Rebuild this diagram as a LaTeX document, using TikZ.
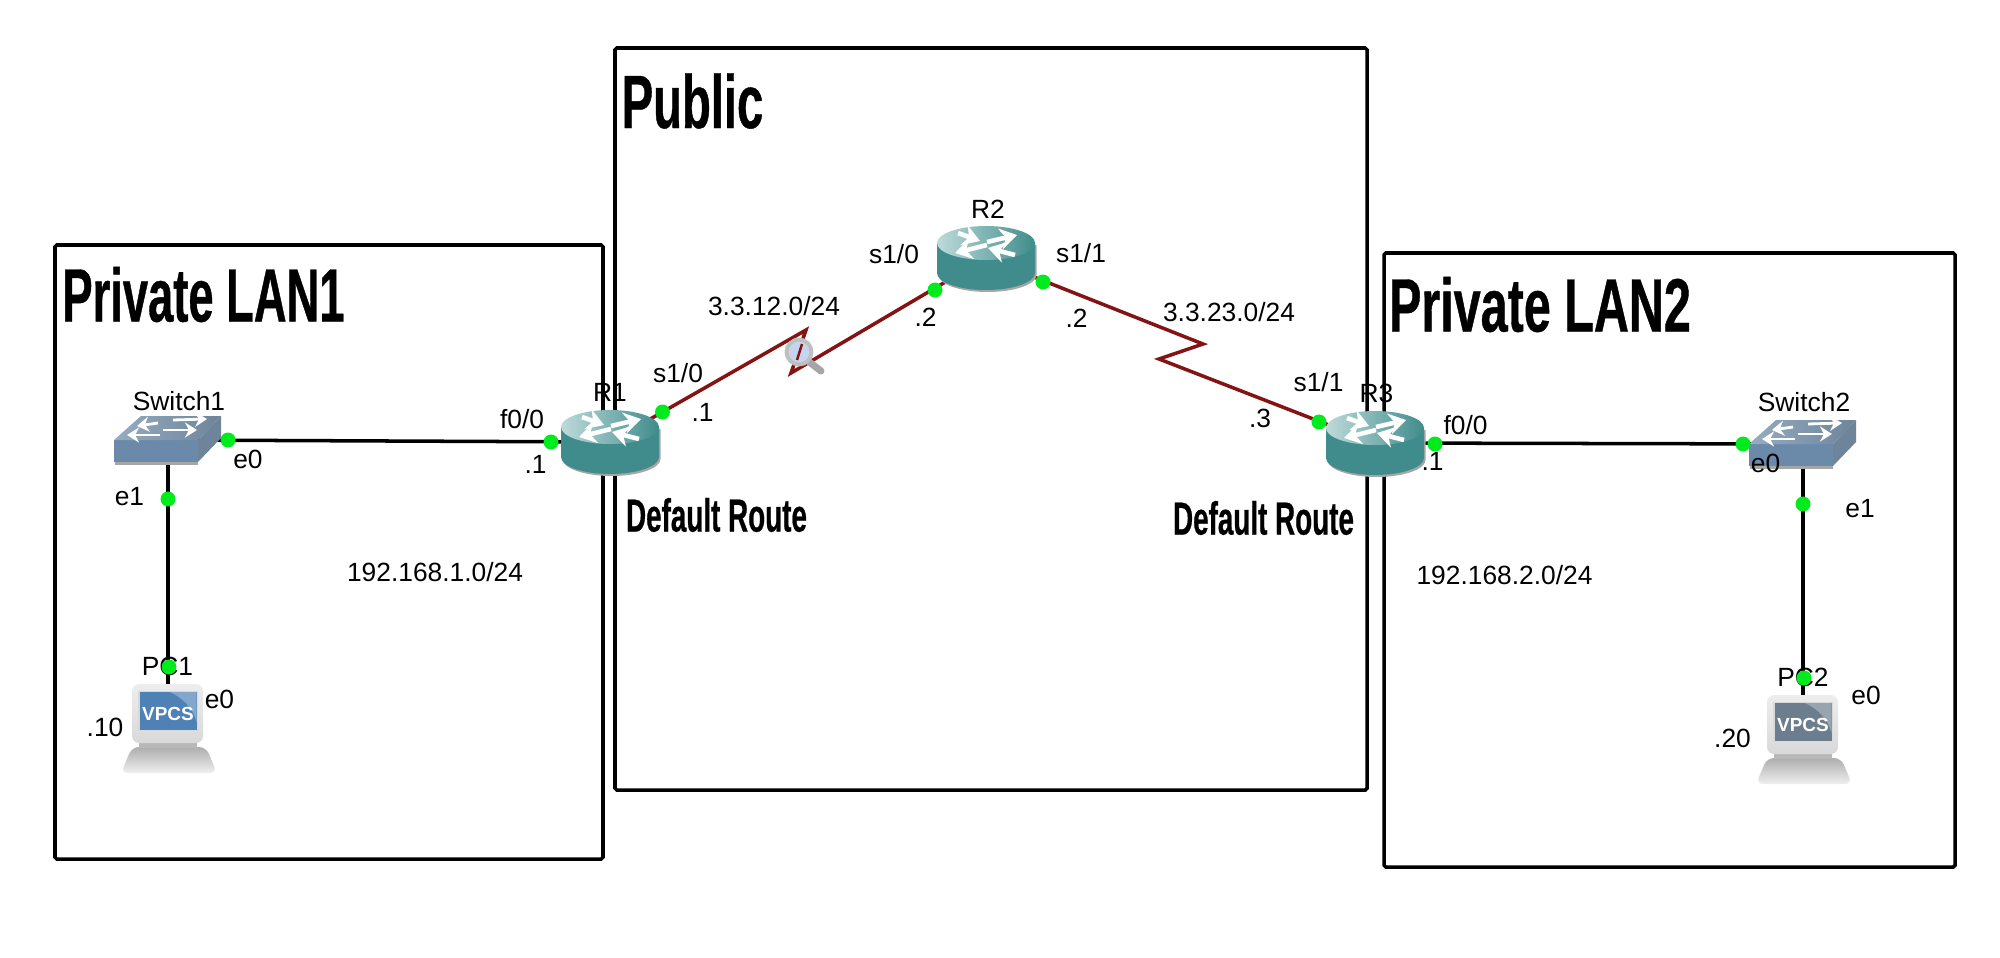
\documentclass[tikz,border=0pt]{standalone}
\usepackage{fontspec}
\setmainfont{Liberation Sans}
\newfontfamily\titlefont[FakeStretch=0.6,FakeBold=0.5]{Liberation Sans}
\usetikzlibrary{arrows.meta,positioning}
\definecolor{serial}{RGB}{132,20,20}
\definecolor{port}{RGB}{0,235,30}
\definecolor{teal}{RGB}{64,140,140}
\definecolor{tealpale}{RGB}{190,218,218}
\definecolor{steel}{RGB}{107,138,170}
\definecolor{steeldark}{RGB}{110,132,155}
\definecolor{steelpale}{RGB}{150,172,192}
\definecolor{screenblue}{RGB}{78,129,181}
\definecolor{screenslate}{RGB}{108,126,142}
\definecolor{lensblue}{RGB}{195,214,238}
\tikzset{
  >={Stealth[length=1.7mm,width=2.1mm]},
  zone/.style={draw=black,line width=1pt,rounded corners=0.5pt},
  zonetitle/.style={font=\titlefont\bfseries\fontsize{21.5}{24}\selectfont,inner sep=0pt},
  routetag/.style={font=\titlefont\bfseries\fontsize{13.2}{16}\selectfont,inner sep=0pt},
  tag/.style={font=\fontsize{7.5}{8}\selectfont,inner sep=0pt},
  device/.style={inner sep=0pt,minimum size=1pt},
  eth/.style={draw=black,line width=1pt},
  wan/.style={draw=serial,line width=1pt},
  portdot/.style={circle,fill=port,inner sep=0pt,minimum size=1.5mm},
  glyph/.style={->,white,line width=1.3pt},
  thinglyph/.style={-{Stealth[length=1.2mm,width=1.5mm]},white,line width=0.8pt},
  % pictograms
  pics/router/.style={code={
    \fill[black!35,shift={(0.015,-0.02)}] (-0.49,0.15) -- (-0.49,-0.15) arc (180:360:0.49 and 0.17) -- (0.49,0.15) -- cycle;
    \fill[teal] (-0.49,0.15) -- (-0.49,-0.15) arc (180:360:0.49 and 0.17) -- (0.49,0.15) -- cycle;
    \shade[left color=tealpale,middle color=teal,right color=teal] (0,0.15) ellipse (0.49 and 0.17);
    \draw[glyph] (-0.28,0.25) -- (-0.06,0.17);
    \draw[glyph] (0.01,0.16) -- (0.31,0.23);
    \draw[glyph] (0.01,0.13) -- (-0.31,0.05);
    \draw[glyph] (0.29,0.03) -- (0.02,0.10);
  }},
  pics/switch/.style={code={
    \fill[black!35] (-0.53,-0.22) -- (0.30,-0.22) -- (0.30,-0.245) -- (-0.53,-0.245) -- cycle;
    \fill[steel] (-0.54,0) rectangle (0.30,-0.22);
    \fill[steeldark] (0.30,0) -- (0.53,0.24) -- (0.53,0.02) -- (0.30,-0.22) -- cycle;
    \shade[left color=steelpale,right color=steeldark] (-0.54,0) -- (0.30,0) -- (0.53,0.24) -- (-0.27,0.24) -- cycle;
    \draw[thinglyph] (0.05,0.20) -- (0.39,0.21);
    \draw[thinglyph] (-0.10,0.17) -- (-0.31,0.14);
    \draw[thinglyph] (-0.05,0.10) -- (0.29,0.10);
    \draw[thinglyph] (-0.08,0.05) -- (-0.41,0.05);
  }},
  pics/vpcs/.style={code={
    \shade[top color=black!32,bottom color=black!6,rounded corners=2pt] (-0.36,-0.19) -- (0.38,-0.19) -- (0.49,-0.45) -- (-0.47,-0.45) -- cycle;
    \fill[black!28] (-0.29,-0.15) rectangle (0.29,-0.20);
    \shade[top color=black!7,bottom color=black!15,rounded corners=2pt] (-0.36,-0.15) rectangle (0.35,0.44);
    \fill[white!85!black] (-0.30,-0.03) rectangle (0.30,0.37);
    \fill[#1] (-0.285,-0.02) rectangle (0.285,0.36);
    \fill[#1!70!white] (0.02,0.36) -- (0.285,0.36) -- (0.285,0.06) .. controls (0.25,0.2) and (0.15,0.3) .. cycle;
    \node[font=\fontsize{5.4}{6}\selectfont\bfseries,text=white,inner sep=0pt] (vpcstext) at (0,0.14) {VPCS};
  }},
  pics/lens/.style={code={
    \draw[black!35,line width=2pt,line cap=round] (0.09,-0.09) -- (0.22,-0.19);
    \fill[lensblue,draw=black!25,line width=1.1pt] (0,0) circle (0.125);
    \draw[serial,line width=0.7pt] (-0.02,-0.08) -- (0.03,0.08);
  }},
}
\begin{document}
\begin{tikzpicture}
  \useasboundingbox (0,0) rectangle (20,9.57);
  % zones
  \draw[zone] (0.55,0.98) rectangle (6.03,7.12);
  \draw[zone] (6.15,1.67) rectangle (13.67,9.09);
  \draw[zone] (13.84,0.90) rectangle (19.55,7.04);
  \node[zonetitle] (lan1title) at (2.035,6.625) {Private LAN1};
  \node[zonetitle,xscale=1.04,transform shape] (publictitle) at (6.925,8.56) {Public};
  \node[zonetitle,xscale=1.07,transform shape] (lan2title) at (15.40,6.525) {Private LAN2};
  % devices
  \node[device] (sw1) at (1.68,5.17) {};
  \node[device] (sw2) at (18.03,5.13) {};
  \node[device] (pc1) at (1.68,2.29) {};
  \node[device] (pc2) at (18.03,2.18) {};
  \node[device] (r1) at (6.10,5.15) {};
  \node[device] (r2) at (9.86,6.99) {};
  \node[device] (r3) at (13.75,5.14) {};
  \coordinate (z1a) at (8.06,6.27);
  \coordinate (z1b) at (7.91,5.84);
  \coordinate (z2a) at (12.03,6.13);
  \coordinate (z2b) at (11.59,5.98);
  % links
  \draw[eth] (sw1) -- (r1);
  \draw[eth] (sw1) -- (pc1);
  \draw[eth] (r3) -- (sw2);
  \draw[eth] (sw2) -- (pc2);
  \draw[wan] (r1) -- (z1a) -- (z1b) -- (r2);
  \draw[wan] (r2) -- (z2a) -- (z2b) -- (r3);
  \foreach \d in {r1,r2,r3} \pic at (\d) {router};
  \foreach \d in {sw1,sw2} \pic at (\d) {switch};
  \pic at (pc1) {vpcs=screenblue};
  \pic at (pc2) {vpcs=screenslate};
  \pic at (7.99,6.05) {lens};
  % labels
  \node[tag] (sw1name) at (1.79,5.56) {Switch1};
  \node[tag] (sw1e0) at (2.48,4.98) {e0};
  \node[tag] (sw1e1) at (1.295,4.60) {e1};
  \node[tag] (pc1name) at (1.675,2.91) {PC1};
  \node[tag] (pc1e0) at (2.195,2.58) {e0};
  \node[tag] (pc1ip) at (1.05,2.30) {.10};
  \node[tag] (lan1net) at (4.35,3.85) {192.168.1.0/24};
  \node[tag] (r1name) at (6.10,5.65) {R1};
  \node[tag] (r1f0) at (5.22,5.38) {f0/0};
  \node[tag] (r1f0ip) at (5.355,4.93) {.1};
  \node[tag] (r1s1) at (6.78,5.84) {s1/0};
  \node[tag] (r1s1ip) at (7.025,5.45) {.1};
  \node[tag] (net12) at (7.74,6.51) {3.3.12.0/24};
  \node[tag] (r2name) at (9.88,7.48) {R2};
  \node[tag] (r2s0) at (8.94,7.03) {s1/0};
  \node[tag] (r2s0ip) at (9.255,6.40) {.2};
  \node[tag] (r2s1) at (10.81,7.04) {s1/1};
  \node[tag] (r2s1ip) at (10.765,6.39) {.2};
  \node[tag] (net23) at (12.29,6.45) {3.3.23.0/24};
  \node[routetag] (route1) at (7.165,4.42) {Default Route};
  \node[routetag] (route3) at (12.635,4.39) {Default Route};
  \node[tag] (r3name) at (13.765,5.64) {R3};
  \node[tag] (r3s1) at (13.185,5.75) {s1/1};
  \node[tag] (r3s1ip) at (12.60,5.39) {.3};
  \node[tag] (r3f0) at (14.655,5.32) {f0/0};
  \node[tag] (r3f0ip) at (14.325,4.96) {.1};
  \node[tag] (lan2net) at (15.045,3.82) {192.168.2.0/24};
  \node[tag] (sw2name) at (18.04,5.55) {Switch2};
  \node[tag] (sw2e0) at (17.655,4.94) {e0};
  \node[tag] (sw2e1) at (18.60,4.48) {e1};
  \node[tag] (pc2name) at (18.03,2.80) {PC2};
  \node[tag] (pc2e0) at (18.66,2.62) {e0};
  \node[tag] (pc2ip) at (17.325,2.19) {.20};
  % ports
  \foreach \x/\y/\p in {2.28/5.17/a,1.68/4.58/b,1.69/2.90/c,5.51/5.15/d,6.625/5.45/e,9.35/6.67/f,
    10.43/6.75/g,13.19/5.35/h,14.35/5.13/i,17.43/5.13/j,18.03/4.53/k,18.04/2.79/l}
    \node[portdot] (port\p) at (\x,\y) {};
\end{tikzpicture}
\end{document}
